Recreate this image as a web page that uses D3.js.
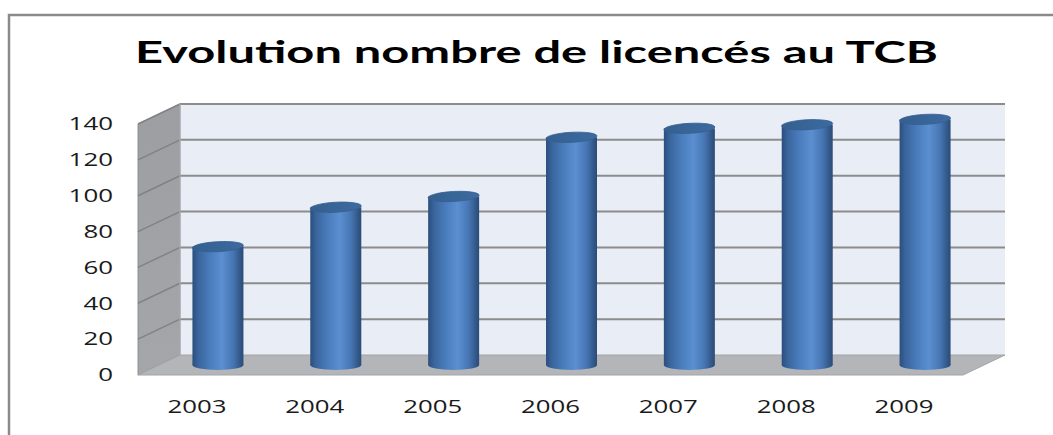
<!DOCTYPE html>
<html>
<head>
<meta charset="utf-8">
<script src="https://cdn.jsdelivr.net/npm/d3@7"></script>
<style>
  body { margin: 0; background: #fff; }
  svg { display: block; }
</style>
</head>
<body>
<svg width="1053" height="435"></svg>
<script>
// data
const years = ["2003", "2004", "2005", "2006", "2007", "2008", "2009"];
const licencies = [66, 88, 94, 127, 132, 134, 137];
const yTicks = [0, 20, 40, 60, 80, 100, 120, 140];
const title = "Evolution nombre de licencés au TCB";

const width = 1053, height = 435;
// depth of the 3d box (front plane = back plane shifted by -dx, +dy)
const dx = 42, dy = 20;

const svg = d3.select("svg");
const defs = svg.append("defs");

// back plane y scale
const y = d3.scaleLinear().domain([0, 140]).range([355, 104]);
// front plane x scale
const x = d3.scaleBand().domain(years).range([138, 963]).padding(0);

// outer border of the chart area
svg.append("rect")
  .attr("x", 9).attr("y", 15)
  .attr("width", 1100).attr("height", 500)
  .attr("fill", "none").attr("stroke", "#8a8a8a").attr("stroke-width", 2.5);

// title
svg.append("text")
  .attr("x", 135).attr("y", 63)
  .attr("textLength", 803).attr("lengthAdjust", "spacingAndGlyphs")
  .style("font-family", "Lato, 'Open Sans', sans-serif")
  .style("font-weight", "bold").style("font-size", "30px")
  .attr("fill", "#000")
  .text(title);

// gradients
const sideGrad = defs.append("linearGradient").attr("id", "side")
  .attr("x1", 0).attr("y1", 0).attr("x2", 0).attr("y2", 1);
sideGrad.append("stop").attr("offset", "0%").attr("stop-color", "#9c9ea1");
sideGrad.append("stop").attr("offset", "100%").attr("stop-color", "#a4a6a9");

const cyl = defs.append("linearGradient").attr("id", "cyl")
  .attr("x1", 0).attr("y1", 0).attr("x2", 1).attr("y2", 0);
[["0%", "#2b4f7e"], ["12%", "#3a659d"], ["35%", "#4a7dbd"], ["58%", "#5b8fd1"],
 ["80%", "#4675b2"], ["93%", "#33598a"], ["100%", "#2a4b77"]]
  .forEach(s => cyl.append("stop").attr("offset", s[0]).attr("stop-color", s[1]));

const topGrad = defs.append("linearGradient").attr("id", "cyltop")
  .attr("x1", 0).attr("y1", 0).attr("x2", 1).attr("y2", 0);
topGrad.append("stop").attr("offset", "0%").attr("stop-color", "#34608f");
topGrad.append("stop").attr("offset", "100%").attr("stop-color", "#3d6aa0");

const xl = 180, xr = 1005; // back wall left/right

// back wall
svg.append("rect")
  .attr("x", xl).attr("y", y(140))
  .attr("width", xr - xl).attr("height", y(0) - y(140))
  .attr("fill", "#e9edf6");

// side wall
svg.append("polygon")
  .attr("points", [[xl - dx, y(0) + dy], [xl, y(0)], [xl, y(140)], [xl - dx, y(140) + dy]].join(" "))
  .attr("fill", "url(#side)").attr("stroke", "#8e9093").attr("stroke-width", 1);

// floor
svg.append("polygon")
  .attr("points", [[xl - dx, y(0) + dy], [xl, y(0)], [xr, y(0)], [xr - dx, y(0) + dy]].join(" "))
  .attr("fill", "#b3b5b9").attr("stroke", "#a2a4a7").attr("stroke-width", 1);

// grid lines on back wall and side wall
const grid = svg.append("g");
grid.selectAll("line.back").data(yTicks.filter(d => d > 0)).enter().append("line")
  .attr("x1", xl).attr("x2", xr)
  .attr("y1", d => y(d)).attr("y2", d => y(d))
  .attr("stroke", "#8c8c8c").attr("stroke-width", 2);
grid.selectAll("line.side").data(yTicks.filter(d => d > 0)).enter().append("line")
  .attr("x1", xl - dx).attr("x2", xl)
  .attr("y1", d => y(d) + dy).attr("y2", d => y(d))
  .attr("stroke", "#808285").attr("stroke-width", 1.5);
// wall corner
svg.append("line").attr("x1", xl).attr("x2", xl).attr("y1", y(140)).attr("y2", y(0))
  .attr("stroke", "#b0b2b5").attr("stroke-width", 1);

// cylinders (centred at mid depth)
const cw = 51, ry = 5;
const cx = d => x(d) + x.bandwidth() / 2 + dx / 2;
const cy = v => y(v) + dy / 2;

const bars = svg.append("g").selectAll("g").data(years.map((d, i) => ({ year: d, v: licencies[i] })))
  .enter().append("g");

bars.append("ellipse")
  .attr("cx", d => cx(d.year)).attr("cy", cy(0))
  .attr("rx", cw / 2).attr("ry", ry)
  .attr("fill", "url(#cyl)");
bars.append("rect")
  .attr("x", d => cx(d.year) - cw / 2).attr("y", d => cy(d.v))
  .attr("width", cw).attr("height", d => cy(0) - cy(d.v))
  .attr("fill", "url(#cyl)");
bars.append("ellipse")
  .attr("cx", d => cx(d.year)).attr("cy", d => cy(d.v))
  .attr("rx", cw / 2).attr("ry", ry)
  .attr("transform", d => `rotate(-3 ${cx(d.year)} ${cy(d.v)})`)
  .attr("fill", "url(#cyltop)").attr("stroke", "#365f92").attr("stroke-width", 0.8);

// y axis labels (front plane)
svg.append("g").selectAll("text").data(yTicks).enter().append("text")
  .attr("x", 113).attr("y", d => y(d) + dy)
  .attr("dy", "0.35em")
  .attr("text-anchor", "end")
  .attr("textLength", d => String(d).length * 14.8).attr("lengthAdjust", "spacingAndGlyphs")
  .style("font-family", "'Open Sans', sans-serif").style("font-size", "18px")
  .attr("fill", "#1a1a1a")
  .text(d => d);

// x axis labels
svg.append("g").selectAll("text").data(years).enter().append("text")
  .attr("x", d => x(d) + x.bandwidth() / 2 - 29.5).attr("y", 407)
  .attr("dy", "0.35em")
  .attr("textLength", 59).attr("lengthAdjust", "spacingAndGlyphs")
  .style("font-family", "'Open Sans', sans-serif").style("font-size", "18px")
  .attr("fill", "#1a1a1a")
  .text(d => d);
</script>
</body>
</html>
